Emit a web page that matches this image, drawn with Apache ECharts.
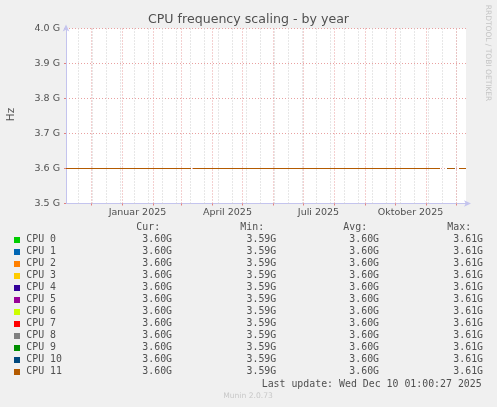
<!DOCTYPE html>
<html>
<head>
<meta charset="utf-8">
<script src="https://cdn.jsdelivr.net/npm/echarts@6/dist/echarts.min.js"></script>
<style>
html,body{margin:0;padding:0;background:#f0f0f0;}
#chart{width:497px;height:407px;}
</style>
</head>
<body>
<div id="chart"></div>
<script>
// ---- data ----
const xMin = '2024-11-05T12:00:00Z';
const xMax = '2025-12-10T12:00:00Z';
const yTicks = [3.5e9, 3.6e9, 3.7e9, 3.8e9, 3.9e9, 4.0e9];
const monthStarts = ['2024-12-01','2025-01-01','2025-02-01','2025-03-01','2025-04-01','2025-05-01','2025-06-01','2025-07-01','2025-08-01','2025-09-01','2025-10-01','2025-11-01','2025-12-01'];
const minorDates = ['2024-11-18','2024-12-02','2024-12-16','2024-12-30','2025-01-13','2025-01-27','2025-02-10','2025-02-24','2025-03-10','2025-03-24','2025-04-07','2025-04-21','2025-05-05','2025-05-19','2025-06-02','2025-06-16','2025-06-30','2025-07-14','2025-07-28','2025-08-11','2025-08-25','2025-09-08','2025-09-22','2025-10-06','2025-10-20','2025-11-03','2025-11-17','2025-12-01'];
const labelDates = ['2025-01-16','2025-04-16','2025-07-16','2025-10-16'];
const labelTexts = ['Januar 2025','April 2025','Juli 2025','Oktober 2025'];
// segments where data exists (gaps between them)
const segStart = ['2024-11-05T12:00:00Z','2025-03-12T12:00:00Z','2025-11-21T18:00:00Z','2025-12-03T12:00:00Z'];
const segEnd   = ['2025-03-10T12:00:00Z','2025-11-14T12:00:00Z','2025-11-28T18:00:00Z','2025-12-10T12:00:00Z'];
const segLevel = [3.6e9, 3.6e9, 3.6e9, 3.6e9];
const cpuNames = ['CPU 0','CPU 1','CPU 2','CPU 3','CPU 4','CPU 5','CPU 6','CPU 7','CPU 8','CPU 9','CPU 10','CPU 11'];
const cpuColors = ['#00CC00','#0066B3','#FF8000','#FFCC00','#330099','#990099','#CCFF00','#FF0000','#808080','#008F00','#00487D','#B35A00'];
const curVals = ['3.60G','3.60G','3.60G','3.60G','3.60G','3.60G','3.60G','3.60G','3.60G','3.60G','3.60G','3.60G'];
const minVals = ['3.59G','3.59G','3.59G','3.59G','3.59G','3.59G','3.59G','3.59G','3.59G','3.59G','3.59G','3.59G'];
const avgVals = ['3.60G','3.60G','3.60G','3.60G','3.60G','3.60G','3.60G','3.60G','3.60G','3.60G','3.60G','3.60G'];
const maxVals = ['3.61G','3.61G','3.61G','3.61G','3.61G','3.61G','3.61G','3.61G','3.61G','3.61G','3.61G','3.61G'];
const colHeaders = ['Cur:','Min:','Avg:','Max:'];
const titleText = 'CPU frequency scaling - by year';
const lastUpdate = 'Last update: Wed Dec 10 01:00:27 2025';

// ---- build ----
const P = s => Date.parse(s.length === 10 ? s + 'T00:00:00Z' : s);
function cpuData() {
  const d = [];
  for (let k = 0; k < segStart.length; k++) {
    if (k > 0) d.push([P(segEnd[k-1]), null]);
    d.push([P(segStart[k]), segLevel[k]]);
    d.push([P(segEnd[k]), segLevel[k]]);
  }
  return d;
}
const series = [{
  type: 'line', data: [], silent: true, z: 1,
  markLine: {
    silent: true, symbol: ['none','none'], animation: false,
    label: {show: false},
    data: minorDates.map(t => ({xAxis: P(t), lineStyle: {color: '#cfcfcf', type: [1,2], width: 1}}))
      .concat(monthStarts.map(t => ({xAxis: P(t), lineStyle: {color: '#e9a0a0', type: [1,2], width: 1}})))
  }
}];
cpuNames.forEach((n, i) => {
  series.push({
    name: n, type: 'line', data: cpuData(), showSymbol: false, connectNulls: false,
    lineStyle: {color: cpuColors[i], width: 1}, itemStyle: {color: cpuColors[i]},
    animation: false, z: 2
  });
});

const MONO = '"DejaVu Sans Mono"';
const textColor = '#505050';
const graphic = [];
function txt(x, y, s, font, fill, align, rot) {
  graphic.push({type: 'text', x: x, y: y, rotation: rot || 0, silent: true,
    style: {text: s, font: font, fill: fill, align: align || 'left', verticalAlign: 'middle'}});
}
txt(248.5, 19.5, titleText, '12.6px "DejaVu Sans"', '#505050', 'center');
txt(10.8, 114.5, 'Hz', '10.5px "DejaVu Sans"', textColor, 'center', Math.PI / 2);
txt(488, 53, 'RRDTOOL / TOBI OETIKER', '7.5px "DejaVu Sans"', '#c4c4c4', 'center', -Math.PI / 2);
const headerX = [136.3, 240.3, 343.3, 447.3];
const valueX = [142.3, 246.5, 349.3, 453.3];
colHeaders.forEach((h, i) => txt(headerX[i], 227.5, h, '9.9px ' + MONO, textColor, 'left'));
const cols = [curVals, minVals, avgVals, maxVals];
cpuNames.forEach((n, i) => {
  const y = 239.7 + i * 12;
  graphic.push({type: 'rect', silent: true, shape: {x: 14, y: Math.round(y - 3), width: 6, height: 6}, style: {fill: cpuColors[i]}});
  txt(26.3, y, n, '9.9px ' + MONO, textColor, 'left');
  cols.forEach((c, j) => txt(valueX[j], y, c[i], '9.9px ' + MONO, textColor, 'left'));
});
txt(261.7, 384, lastUpdate, '9.9px ' + MONO, textColor, 'left');
txt(248, 396, 'Munin 2.0.73', '7.6px "DejaVu Sans"', '#c8c8c8', 'center');

const chart = echarts.init(document.getElementById('chart'), null, {renderer: 'canvas'});
chart.setOption({
  backgroundColor: '#f0f0f0',
  animation: false,
  grid: {left: 66, right: 31, top: 28.5, bottom: 203.5, show: true, backgroundColor: '#ffffff', borderWidth: 0, containLabel: false, outerBoundsMode: 'none'},
  xAxis: {
    type: 'value', min: P(xMin), max: P(xMax),
    axisLine: {show: true, lineStyle: {color: '#c4c4ee', width: 1}, symbol: ['none','arrow'], symbolSize: [5,7], symbolOffset: [0,5]},
    axisTick: {show: true, customValues: monthStarts.map(P), length: 2, lineStyle: {color: '#e08080'}},
    axisLabel: {
      customValues: labelDates.map(P), margin: 4, fontSize: 9.5, fontFamily: 'DejaVu Sans', color: textColor,
      formatter: v => { const i = labelDates.findIndex(d => Math.abs(P(d) - v) < 1e6); return i >= 0 ? labelTexts[i] : ''; }
    },
    splitLine: {show: false}
  },
  yAxis: {
    type: 'value', min: yTicks[0], max: yTicks[yTicks.length - 1], interval: 1e8,
    axisLine: {show: true, lineStyle: {color: '#c4c4ee', width: 1}, symbol: ['none','arrow'], symbolSize: [5,7], symbolOffset: [0,4]},
    axisTick: {show: true, length: 2, lineStyle: {color: '#e08080'}},
    axisLabel: {margin: 6, fontSize: 9.5, fontFamily: 'DejaVu Sans', color: textColor,
      formatter: v => (v / 1e9).toFixed(1) + ' G'},
    splitLine: {show: true, lineStyle: {color: '#e9a0a0', type: [1,2], width: 1}}
  },
  series: series,
  graphic: graphic
});
</script>
</body>
</html>
